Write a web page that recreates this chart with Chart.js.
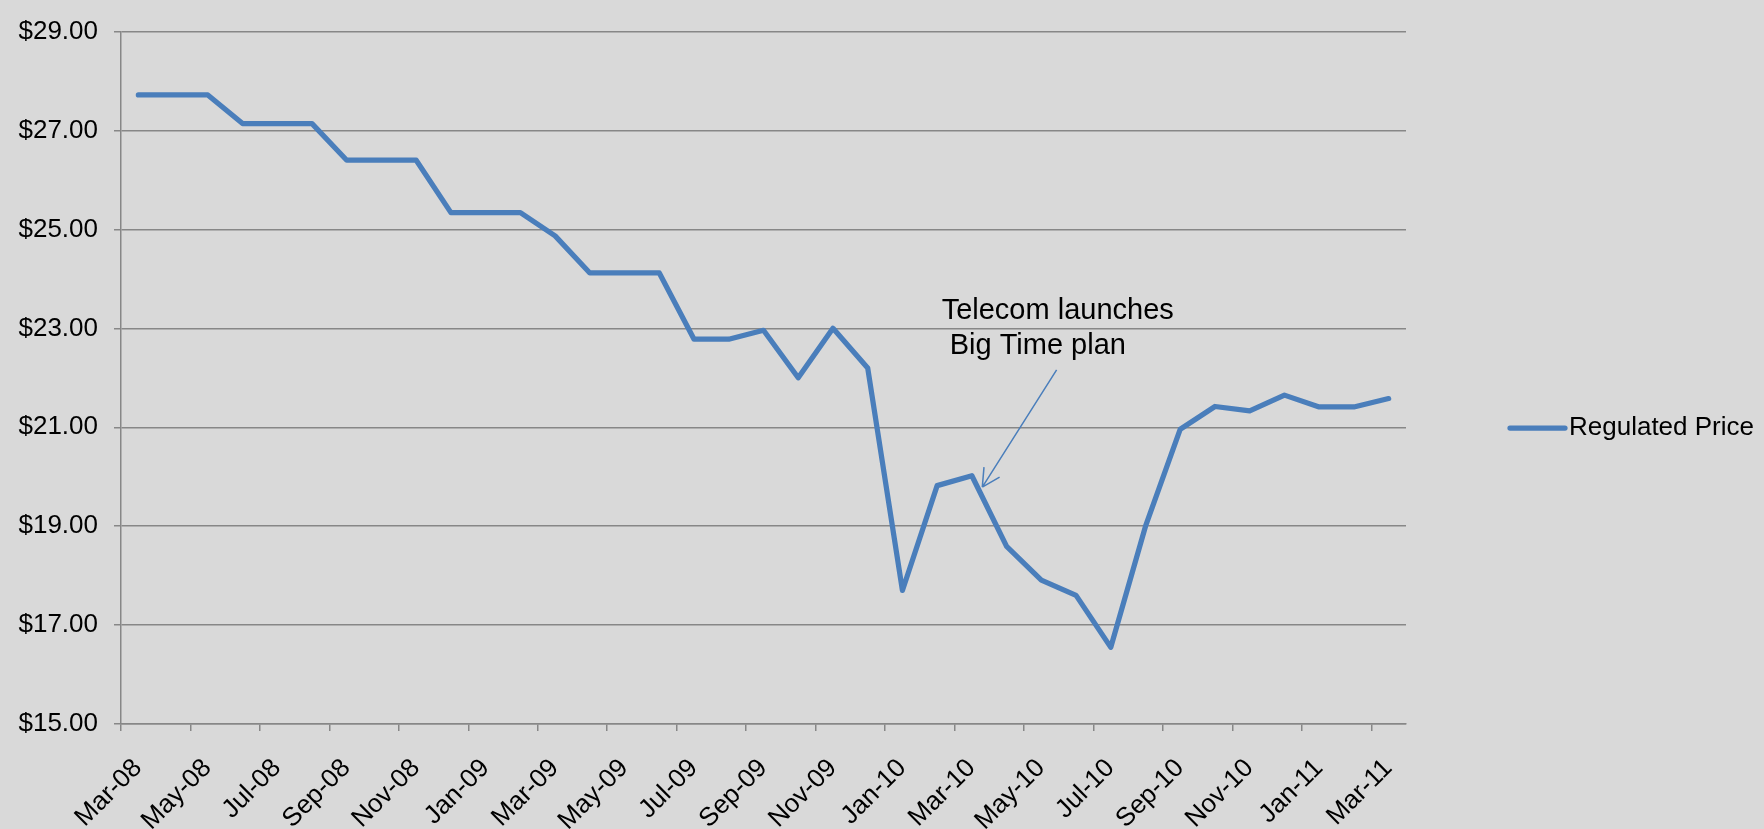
<!DOCTYPE html>
<html>
<head>
<meta charset="utf-8">
<script src="https://cdn.jsdelivr.net/npm/chart.js@4.4.1/dist/chart.umd.min.js"></script>
<style>
	html, body { margin: 0; padding: 0; background: #d9d9d9; }
	canvas { display: block; }
</style>
</head>
<body>
<canvas id="chart" width="1764" height="829"></canvas>
<script>
const months = [
	'Mar-08', 'Apr-08', 'May-08', 'Jun-08', 'Jul-08', 'Aug-08', 'Sep-08', 'Oct-08', 'Nov-08', 'Dec-08',
	'Jan-09', 'Feb-09', 'Mar-09', 'Apr-09', 'May-09', 'Jun-09', 'Jul-09', 'Aug-09', 'Sep-09', 'Oct-09',
	'Nov-09', 'Dec-09', 'Jan-10', 'Feb-10', 'Mar-10', 'Apr-10', 'May-10', 'Jun-10', 'Jul-10', 'Aug-10',
	'Sep-10', 'Oct-10', 'Nov-10', 'Dec-10', 'Jan-11', 'Feb-11', 'Mar-11'
]
const regulatedPrice = [
	27.72, 27.72, 27.72, 27.14, 27.14, 27.14, 26.40, 26.40, 26.40, 25.34,
	25.34, 25.34, 24.87, 24.12, 24.12, 24.12, 22.78, 22.78, 22.96, 22.00,
	23.00, 22.20, 17.70, 19.82, 20.02, 18.59, 17.91, 17.60, 16.55, 19.00,
	20.96, 21.42, 21.33, 21.65, 21.41, 21.41, 21.58
]
const xTickLabels = [
	'Mar-08', 'May-08', 'Jul-08', 'Sep-08', 'Nov-08', 'Jan-09', 'Mar-09', 'May-09', 'Jul-09', 'Sep-09',
	'Nov-09', 'Jan-10', 'Mar-10', 'May-10', 'Jul-10', 'Sep-10', 'Nov-10', 'Jan-11', 'Mar-11'
]
const yMin = 15
const yMax = 29
const yStep = 2

// note text and arrow, in data units (x = month index, y = price)
const noteLines = ['Telecom launches', ' Big Time plan']
const noteAt = { x: 23.63, y: 23.19 }
const arrowFrom = { x: 26.94, y: 22.16 }
const arrowTo = { x: 24.80, y: 19.79 }

const lineColor = '#4a7ebb'
const gridColor = '#878787'
const fontFamily = '"Liberation Sans", Arial, sans-serif'

const notePlugin = {
	id: 'note',
	afterDraw(chart) {
		const ctx = chart.ctx
		const xs = chart.scales.x
		const ys = chart.scales.y
		ctx.save()
		ctx.fillStyle = '#000'
		ctx.font = '29px ' + fontFamily
		ctx.textAlign = 'left'
		ctx.textBaseline = 'alphabetic'
		const tx = xs.getPixelForValue(noteAt.x)
		const ty = ys.getPixelForValue(noteAt.y)
		noteLines.forEach((line, i) => ctx.fillText(line, tx, ty + i * 35))

		const x1 = xs.getPixelForValue(arrowFrom.x)
		const y1 = ys.getPixelForValue(arrowFrom.y)
		const x2 = xs.getPixelForValue(arrowTo.x)
		const y2 = ys.getPixelForValue(arrowTo.y)
		const ang = Math.atan2(y1 - y2, x1 - x2)
		ctx.strokeStyle = lineColor
		ctx.lineWidth = 1.5
		ctx.beginPath()
		ctx.moveTo(x1, y1)
		ctx.lineTo(x2, y2)
		for (const d of [-0.48, 0.48]) {
			ctx.moveTo(x2 + 20 * Math.cos(ang + d), y2 + 20 * Math.sin(ang + d))
			ctx.lineTo(x2, y2)
		}
		ctx.stroke()

		// legend
		const ds = chart.data.datasets[0]
		const ly = 428
		const lx = chart.chartArea.right + 104
		ctx.strokeStyle = ds.borderColor
		ctx.lineWidth = ds.borderWidth
		ctx.lineCap = 'round'
		ctx.beginPath()
		ctx.moveTo(lx, ly)
		ctx.lineTo(lx + 55, ly)
		ctx.stroke()
		ctx.font = '26px ' + fontFamily
		ctx.textBaseline = 'middle'
		ctx.fillText(ds.label, lx + 59, ly)
		ctx.restore()
	}
}

new Chart(document.getElementById('chart'), {
	type: 'line',
	data: {
		datasets: [
			{
				label: 'Regulated Price',
				data: regulatedPrice.map((v, i) => ({ x: i + 0.5, y: v })),
				borderColor: lineColor,
				backgroundColor: lineColor,
				borderWidth: 5.25,
				borderCapStyle: 'round',
				borderJoinStyle: 'round',
				pointRadius: 0,
				tension: 0
			}
		]
	},
	options: {
		responsive: false,
		animation: false,
		layout: { padding: { top: 25, right: 358, bottom: 0, left: 0 } },
		plugins: {
			legend: { display: false },
			tooltip: { enabled: false }
		},
		scales: {
			x: {
				type: 'linear',
				min: 0,
				max: months.length,
				afterFit(scale) { scale.height = 105 },
				afterBuildTicks(scale) {
					scale.ticks = xTickLabels.map((_, i) => ({ value: i * 2 }))
				},
				grid: { drawOnChartArea: false, drawTicks: true, tickLength: 7, color: gridColor, lineWidth: 1.5 },
				border: { display: true, color: gridColor, width: 1.5 },
				ticks: {
					autoSkip: false,
					minRotation: 45,
					maxRotation: 45,
					padding: 22,
					labelOffset: 17,
					color: '#000',
					font: { family: fontFamily, size: 26 },
					callback: (v) => xTickLabels[Math.round(v / 2)]
				}
			},
			y: {
				min: yMin,
				max: yMax,
				afterFit(scale) { scale.width = 121 },
				grid: { drawTicks: true, tickLength: 7, color: gridColor, lineWidth: 1.5 },
				border: { display: true, color: gridColor, width: 1.5 },
				ticks: {
					stepSize: yStep,
					padding: 16,
					color: '#000',
					font: { family: fontFamily, size: 26 },
					callback: (v) => '$' + v.toFixed(2)
				}
			}
		}
	},
	plugins: [notePlugin]
})
</script>
</body>
</html>
